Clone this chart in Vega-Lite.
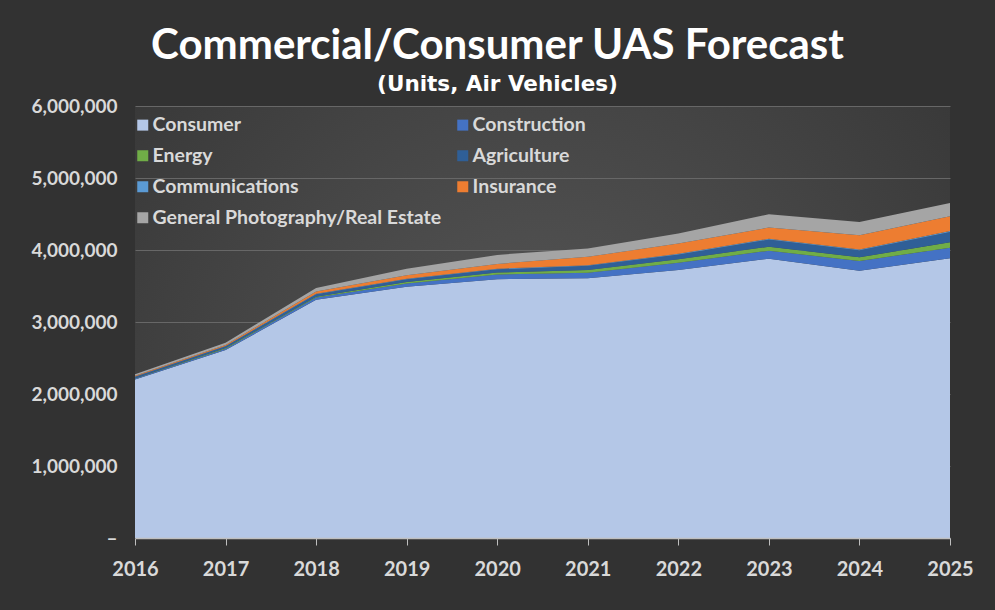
{
  "$schema": "https://vega.github.io/schema/vega-lite/v6.json",
  "width": 815,
  "height": 432,
  "autosize": "none",
  "padding": {"left": 135, "top": 106, "right": 45, "bottom": 72},
  "background": "#323232",
  "view": {
    "stroke": null,
    "fill": {
      "gradient": "radial",
      "x1": 0.5, "y1": 0.6, "r1": 0,
      "x2": 0.5, "y2": 0.6, "r2": 0.75,
      "stops": [{"offset": 0, "color": "#575757"}, {"offset": 1, "color": "#333333"}]
    }
  },
  "title": {
    "text": "Commercial/Consumer UAS Forecast",
    "subtitle": "(Units, Air Vehicles)",
    "font": "Lato",
    "fontSize": 42,
    "fontWeight": "bold",
    "color": "#ffffff",
    "subtitleFont": "DejaVu Sans",
    "subtitleFontSize": 21.5,
    "subtitleFontWeight": "bold",
    "subtitleColor": "#ffffff",
    "anchor": "middle",
    "frame": "group",
    "dx": -45,
    "offset": 1,
    "subtitlePadding": 6
  },
  "data": {
    "values": [
      {"year": "2016", "segment": "Consumer", "units": 2200000},
      {"year": "2017", "segment": "Consumer", "units": 2610000},
      {"year": "2018", "segment": "Consumer", "units": 3310000},
      {"year": "2019", "segment": "Consumer", "units": 3490000},
      {"year": "2020", "segment": "Consumer", "units": 3595000},
      {"year": "2021", "segment": "Consumer", "units": 3607000},
      {"year": "2022", "segment": "Consumer", "units": 3722000},
      {"year": "2023", "segment": "Consumer", "units": 3879000},
      {"year": "2024", "segment": "Consumer", "units": 3712000},
      {"year": "2025", "segment": "Consumer", "units": 3885000},
      {"year": "2016", "segment": "Construction", "units": 15000},
      {"year": "2017", "segment": "Construction", "units": 20000},
      {"year": "2018", "segment": "Construction", "units": 30000},
      {"year": "2019", "segment": "Construction", "units": 45000},
      {"year": "2020", "segment": "Construction", "units": 64000},
      {"year": "2021", "segment": "Construction", "units": 78000},
      {"year": "2022", "segment": "Construction", "units": 102000},
      {"year": "2023", "segment": "Construction", "units": 111000},
      {"year": "2024", "segment": "Construction", "units": 135000},
      {"year": "2025", "segment": "Construction", "units": 147000},
      {"year": "2016", "segment": "Energy", "units": 5000},
      {"year": "2017", "segment": "Energy", "units": 8000},
      {"year": "2018", "segment": "Energy", "units": 12000},
      {"year": "2019", "segment": "Energy", "units": 20000},
      {"year": "2020", "segment": "Energy", "units": 28000},
      {"year": "2021", "segment": "Energy", "units": 37000},
      {"year": "2022", "segment": "Energy", "units": 47000},
      {"year": "2023", "segment": "Energy", "units": 56000},
      {"year": "2024", "segment": "Energy", "units": 52000},
      {"year": "2025", "segment": "Energy", "units": 75000},
      {"year": "2016", "segment": "Agriculture", "units": 20000},
      {"year": "2017", "segment": "Agriculture", "units": 25000},
      {"year": "2018", "segment": "Agriculture", "units": 35000},
      {"year": "2019", "segment": "Agriculture", "units": 40000},
      {"year": "2020", "segment": "Agriculture", "units": 45000},
      {"year": "2021", "segment": "Agriculture", "units": 58000},
      {"year": "2022", "segment": "Agriculture", "units": 67000},
      {"year": "2023", "segment": "Agriculture", "units": 100000},
      {"year": "2024", "segment": "Agriculture", "units": 98000},
      {"year": "2025", "segment": "Agriculture", "units": 144000},
      {"year": "2016", "segment": "Communications", "units": 3000},
      {"year": "2017", "segment": "Communications", "units": 4000},
      {"year": "2018", "segment": "Communications", "units": 5000},
      {"year": "2019", "segment": "Communications", "units": 6000},
      {"year": "2020", "segment": "Communications", "units": 7000},
      {"year": "2021", "segment": "Communications", "units": 8000},
      {"year": "2022", "segment": "Communications", "units": 9000},
      {"year": "2023", "segment": "Communications", "units": 10000},
      {"year": "2024", "segment": "Communications", "units": 10000},
      {"year": "2025", "segment": "Communications", "units": 12000},
      {"year": "2016", "segment": "Insurance", "units": 10000},
      {"year": "2017", "segment": "Insurance", "units": 15000},
      {"year": "2018", "segment": "Insurance", "units": 30000},
      {"year": "2019", "segment": "Insurance", "units": 50000},
      {"year": "2020", "segment": "Insurance", "units": 68000},
      {"year": "2021", "segment": "Insurance", "units": 117000},
      {"year": "2022", "segment": "Insurance", "units": 144000},
      {"year": "2023", "segment": "Insurance", "units": 156000},
      {"year": "2024", "segment": "Insurance", "units": 198000},
      {"year": "2025", "segment": "Insurance", "units": 206000},
      {"year": "2016", "segment": "General Photography/Real Estate", "units": 20000},
      {"year": "2017", "segment": "General Photography/Real Estate", "units": 30000},
      {"year": "2018", "segment": "General Photography/Real Estate", "units": 50000},
      {"year": "2019", "segment": "General Photography/Real Estate", "units": 90000},
      {"year": "2020", "segment": "General Photography/Real Estate", "units": 125000},
      {"year": "2021", "segment": "General Photography/Real Estate", "units": 117000},
      {"year": "2022", "segment": "General Photography/Real Estate", "units": 139000},
      {"year": "2023", "segment": "General Photography/Real Estate", "units": 185000},
      {"year": "2024", "segment": "General Photography/Real Estate", "units": 185000},
      {"year": "2025", "segment": "General Photography/Real Estate", "units": 185000}
    ]
  },
  "transform": [
    {"calculate": "indexof(['Consumer', 'Construction', 'Energy', 'Agriculture', 'Communications', 'Insurance', 'General Photography/Real Estate'], datum.segment)", "as": "stackOrder"}
  ],
  "mark": {"type": "area", "opacity": 1},
  "encoding": {
    "x": {
      "field": "year",
      "type": "ordinal",
      "scale": {"type": "point", "padding": 0},
      "axis": {
        "title": null,
        "labelAngle": 0,
        "labelFont": "Lato",
        "labelFontSize": 20,
        "labelFontWeight": "bold",
        "labelColor": "#d9d9d9",
        "labelPadding": 14,
        "domainColor": "#bfbfbf",
        "domainWidth": 1.5,
        "tickColor": "#bfbfbf",
        "tickSize": 7,
        "grid": false,
        "zindex": 1
      }
    },
    "y": {
      "field": "units",
      "type": "quantitative",
      "stack": "zero",
      "scale": {"domain": [0, 6000000], "nice": false},
      "axis": {
        "title": null,
        "values": [0, 1000000, 2000000, 3000000, 4000000, 5000000, 6000000],
        "labelExpr": "datum.value == 0 ? '–' : format(datum.value, ',')",
        "labelFont": "Lato",
        "labelFontSize": 19,
        "labelFontWeight": "bold",
        "labelColor": "#d9d9d9",
        "labelPadding": 18,
        "domain": false,
        "ticks": false,
        "grid": true,
        "gridColor": "#676767",
        "gridWidth": 1
      }
    },
    "order": {"field": "stackOrder", "type": "quantitative", "sort": "ascending"},
    "color": {
      "field": "segment",
      "type": "nominal",
      "sort": ["Consumer", "Energy", "Communications", "General Photography/Real Estate", "Construction", "Agriculture", "Insurance"],
      "scale": {
        "domain": ["Consumer", "Energy", "Communications", "General Photography/Real Estate", "Construction", "Agriculture", "Insurance"],
        "range": ["#b4c7e7", "#70ad47", "#5b9bd5", "#a5a5a5", "#4472c4", "#2f5f97", "#ed7d31"]
      },
      "legend": {
        "title": null,
        "orient": "none",
        "legendX": -2,
        "legendY": 9,
        "columns": 2,
        "columnPadding": 11,
        "rowPadding": 10,
        "symbolType": "square",
        "symbolSize": 121,
        "symbolStrokeWidth": 0,
        "symbolOpacity": 1,
        "labelFont": "Lato",
        "labelFontSize": 19.5,
        "labelFontWeight": "bold",
        "labelColor": "#d9d9d9",
        "labelLimit": 400,
        "labelOffset": 0
      }
    }
  }
}
